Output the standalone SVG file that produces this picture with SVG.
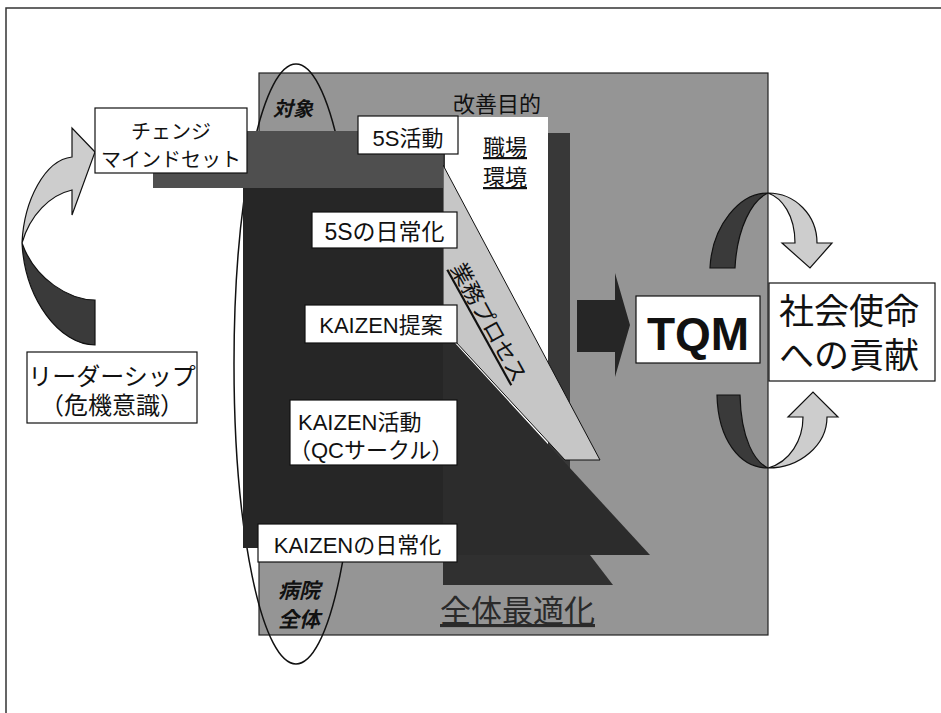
<svg xmlns="http://www.w3.org/2000/svg" width="941" height="713" viewBox="0 0 941 713">
<style>
.t{font-family:"Liberation Sans","Noto Sans CJK JP",sans-serif;fill:#111}
.box{fill:#fff;stroke:#111;stroke-width:1.2}
.lt{fill:#cdcdcd;stroke:#111;stroke-width:1.2}
.dk{fill:#3a3a3a;stroke:#111;stroke-width:1.2}
</style>
<rect width="941" height="713" fill="#fff"/>
<path d="M6,713 V8 H941" fill="none" stroke="#333" stroke-width="1.5"/>

<g id="background">
<rect x="259" y="73" width="509" height="562" fill="#959595" stroke="#222" stroke-width="1.2"/>
</g>

<g id="ellipse">
<ellipse cx="296" cy="364" rx="62" ry="300" fill="none" stroke="#111" stroke-width="1.5"/>
</g>

<g id="layers">
<rect x="443" y="133" width="127" height="337" fill="#383838"/>
<rect x="445" y="117" width="103" height="353" fill="#fff"/>
<polygon points="443,330 650,555 443,555" fill="#2c2c2c"/>
<polygon points="443,555 590,555 613,585 443,585" fill="#303030"/>
<polygon points="443,165 600,460 565,460 443,328" fill="#c6c6c6" stroke="#111" stroke-width="1"/>
<rect x="153" y="131" width="290" height="57" fill="#4f4f4f"/>
<rect x="243" y="188" width="200" height="360" fill="#262626"/>
</g>

<g id="labels">
<text class="t" x="273" y="116" font-size="20" font-style="italic" font-weight="bold">対象</text>
<text class="t" x="453" y="112" font-size="22">改善目的</text>
<text class="t" x="483" y="155" font-size="22" text-decoration="underline">職場</text>
<text class="t" x="483" y="185" font-size="22" text-decoration="underline">環境</text>
<text class="t" transform="translate(482,326) rotate(61)" text-anchor="middle" font-size="22" text-decoration="underline">業務プロセス</text>
<text class="t" x="278" y="598" font-size="21" font-style="italic" font-weight="bold">病院</text>
<text class="t" x="278" y="627" font-size="21" font-style="italic" font-weight="bold">全体</text>
<text class="t" x="440" y="622" font-size="31" text-decoration="underline" style="fill:#2a2a2a">全体最適化</text>
</g>

<g id="connectors">
<path d="M577,300 L615,300 L615,273 L630,325 L615,377 L615,352 L577,352 Z" fill="#262626"/>
<path class="lt" d="M22,243 C24,200 45,160 72,157 L72,128 L95,152 L72,215 L72,190 C50,195 30,215 22,243 Z"/>
<path class="dk" d="M22,243 C25,300 60,345 95,345 L95,300 C70,300 35,280 22,243 Z"/>
<path class="dk" d="M768,193 C740,193 712,225 710,268 L735,268 C737,228 752,200 768,193 Z"/>
<path class="lt" d="M768,193 C795,193 817,215 817,243 L832,243 L810,268 L782,243 L795,243 C795,215 782,198 768,193 Z"/>
<path class="dk" d="M717,395 C718,440 740,468 768,468 C755,462 741,440 740,395 Z"/>
<path class="lt" d="M768,468 C800,468 827,445 827,417 L838,417 L813,392 L788,417 L803,417 C803,440 790,462 768,468 Z"/>
</g>

<g id="node-change">
<rect class="box" x="95" y="108" width="152" height="65"/>
<text class="t" x="171" y="139" font-size="20" text-anchor="middle">チェンジ</text>
<text class="t" x="171" y="167" font-size="20" text-anchor="middle">マインドセット</text>
</g>
<g id="node-leader">
<rect class="box" x="27" y="352" width="170" height="71"/>
<text class="t" x="112" y="385" font-size="24" text-anchor="middle">リーダーシップ</text>
<text class="t" x="112" y="414" font-size="24" text-anchor="middle">（危機意識）</text>
</g>
<g id="node-5s">
<rect class="box" x="358" y="116" width="100" height="38"/>
<text class="t" x="408" y="146" font-size="22" text-anchor="middle">5S活動</text>
</g>
<g id="node-5s-daily">
<rect class="box" x="312" y="212" width="145" height="36"/>
<text class="t" x="384.5" y="240" font-size="23" text-anchor="middle">5Sの日常化</text>
</g>
<g id="node-kaizen-prop">
<rect class="box" x="305" y="305" width="152" height="38"/>
<text class="t" x="381" y="333" font-size="22" text-anchor="middle">KAIZEN提案</text>
</g>
<g id="node-kaizen-act">
<rect class="box" x="290" y="400" width="167" height="65"/>
<text class="t" x="298" y="430" font-size="22">KAIZEN活動</text>
<text class="t" x="289" y="458" font-size="22">（QCサークル）</text>
</g>
<g id="node-kaizen-daily">
<rect class="box" x="258" y="524" width="199" height="38"/>
<text class="t" x="357.5" y="553" font-size="22" text-anchor="middle">KAIZENの日常化</text>
</g>
<g id="node-tqm">
<rect class="box" x="636" y="296" width="124" height="67"/>
<text class="t" x="698" y="350" font-size="46" font-weight="bold" text-anchor="middle">TQM</text>
</g>
<g id="node-social">
<rect class="box" x="769" y="283" width="166" height="98"/>
<text class="t" x="779" y="324" font-size="35">社会使命</text>
<text class="t" x="779" y="368" font-size="35">への貢献</text>
</g>
</svg>
